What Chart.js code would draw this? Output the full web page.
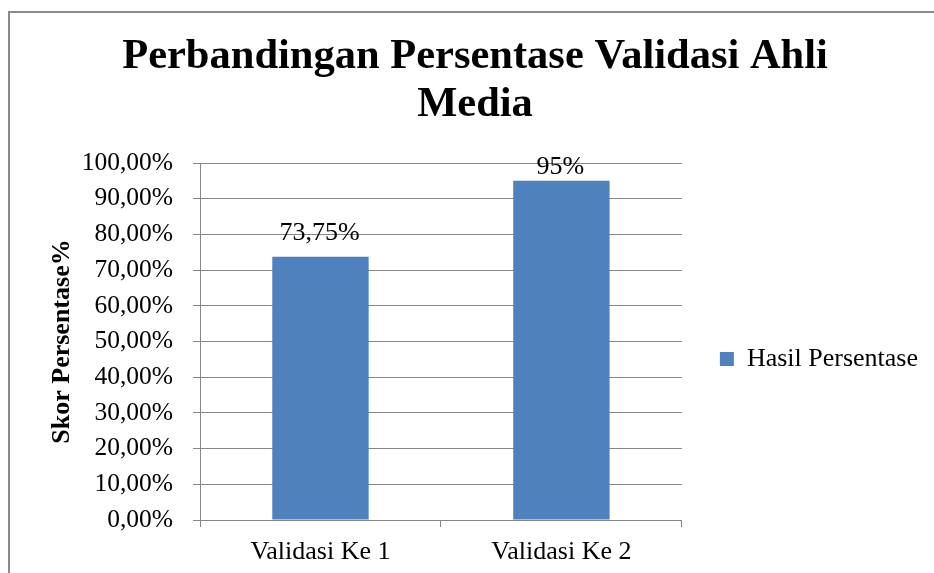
<!DOCTYPE html>
<html>
<head>
<meta charset="utf-8">
<script src="https://cdn.jsdelivr.net/npm/chart.js@4.4.1/dist/chart.umd.min.js"></script>
<style>
  html, body { margin: 0; padding: 0; background: #fff; width: 934px; height: 573px; overflow: hidden; }
  #frame { position: absolute; left: 8px; top: 11px; width: 1000px; height: 700px; border-left: 2px solid #8a8a8a; border-top: 2px solid #8a8a8a; }
  #chart { position: absolute; left: 22px; top: 0; }
</style>
</head>
<body>
<div id="frame"></div>
<canvas id="chart" width="906" height="718"></canvas>
<script>
const categories = ['Validasi Ke 1', 'Validasi Ke 2'];
const hasilPersentase = [73.75, 95];
const yTicks = [0, 10, 20, 30, 40, 50, 60, 70, 80, 90, 100];

const serif = "'Liberation Serif', 'Times New Roman', serif";
const gridGray = '#868686';

// labels above the bars, like Excel's data labels
const barLabels = {
    id: 'barLabels',
    afterDatasetsDraw(chart, args, opts) {
        const c = chart.ctx;
        const meta = chart.getDatasetMeta(0);
        c.save();
        c.font = opts.size + 'px ' + serif;
        c.fillStyle = '#000';
        c.textAlign = 'center';
        c.textBaseline = 'alphabetic';
        meta.data.forEach((bar, i) => {
            const v = chart.data.datasets[0].data[i];
            const txt = String(v).replace('.', ',') + '%';
            c.fillText(txt, bar.x - 1, bar.y - opts.gap[i]);
        });
        c.restore();
    }
};

// the layout caps a side legend at a quarter of the width; let it be as wide as it needs
const wideLegend = {
    id: 'wideLegend',
    beforeLayout(chart) {
        const lg = chart.legend;
        if (lg && !lg._wide) {
            const fit = lg.fit;
            lg.fit = function () { this.maxWidth = 600; fit.call(this); };
            lg._wide = true;
        }
    }
};

new Chart(document.getElementById('chart'), {
    type: 'bar',
    data: {
        labels: categories,
        datasets: [{
            label: 'Hasil Persentase',
            data: hasilPersentase,
            backgroundColor: '#4F81BD',
            borderWidth: 0,
            categoryPercentage: 1,
            barPercentage: 0.4
        }]
    },
    options: {
        responsive: false,
        animation: false,
        devicePixelRatio: 1,
        layout: { padding: 0 },
        plugins: {
            title: {
                display: true,
                text: ['Perbandingan Persentase Validasi Ahli', 'Media'],
                color: '#000',
                font: { family: serif, size: 42.5, weight: 'bold', lineHeight: 1.12 },
                padding: { top: 33.6, bottom: 34.2 }
            },
            legend: {
                position: 'right',
                align: 'center',
                labels: {
                    color: '#000',
                    font: { family: serif, size: 26 },
                    boxWidth: 14,
                    boxHeight: 14,
                    padding: 38
                }
            },
            tooltip: { enabled: false },
            barLabels: { size: 26, gap: [17, 7] }
        },
        scales: {
            x: {
                grid: { drawOnChartArea: false, drawTicks: true, tickLength: 7, color: gridGray, offset: true },
                border: { display: true, color: gridGray },
                ticks: { color: '#000', font: { family: serif, size: 26 }, padding: 10, maxRotation: 0 },
                afterFit(scale) { scale.height = 198; }
            },
            y: {
                min: 0,
                max: 100,
                afterBuildTicks(scale) { scale.ticks = yTicks.map(v => ({ value: v })); },
                grid: { color: gridGray, tickLength: 7 },
                border: { display: true, color: gridGray },
                ticks: {
                    color: '#000',
                    font: { family: serif, size: 25.5 },
                    padding: 20,
                    callback: v => v.toFixed(2).replace('.', ',') + '%'
                },
                title: {
                    display: true,
                    text: 'Skor Persentase%',
                    color: '#000',
                    font: { family: serif, size: 26, weight: 'bold', lineHeight: 1.2 },
                    padding: { top: 25, bottom: 0 }
                },
                afterFit(scale) { scale.width = 178; }
            }
        }
    },
    plugins: [barLabels, wideLegend]
});
</script>
</body>
</html>
